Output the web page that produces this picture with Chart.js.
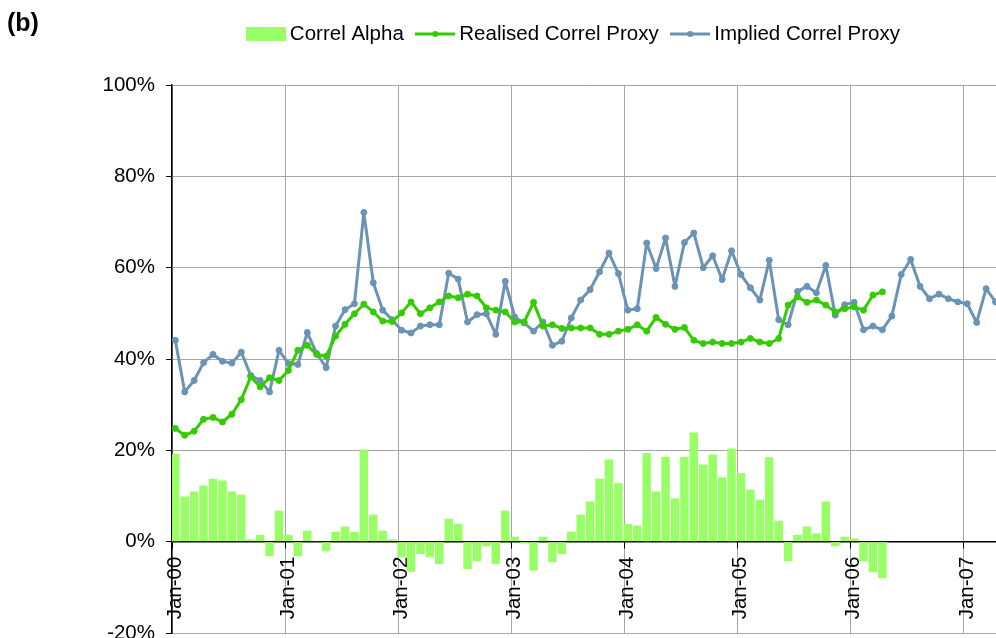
<!DOCTYPE html>
<html>
<head>
<meta charset="utf-8">
<script src="https://cdn.jsdelivr.net/npm/chart.js@4.4.1/dist/chart.umd.min.js"></script>
<style>
  html, body { margin: 0; padding: 0; background: #fff; }
  #wrap { position: relative; width: 996px; height: 638px; overflow: hidden; }
  #panel { position: absolute; left: 7px; top: 8px; font: bold 25px 'Liberation Sans', Arial, sans-serif; color: #000; }
</style>
</head>
<body>
<div id="wrap">
  <canvas id="chart" width="996" height="638"></canvas>
  <div id="panel">(b)</div>
</div>
<script>
// monthly, Jan-00 onwards (values in %)
const implied = [
  44.1, 32.8, 35.3, 39.2, 41.0, 39.5, 39.1, 41.5, 36.4, 35.3, 32.8, 41.9,
  39.0, 38.8, 45.8, 41.2, 38.1, 47.2, 50.8, 52.1, 72.1, 56.7, 50.7, 48.6,
  46.3, 45.7, 47.2, 47.5, 47.5, 58.8, 57.5, 48.1, 49.7, 49.9, 45.4, 57.0,
  49.2, 47.9, 46.1, 48.1, 43.0, 43.9, 49.0, 52.9, 55.2, 59.1, 63.2, 58.7,
  50.7, 51.0, 65.4, 59.8, 66.5, 55.9, 65.5, 67.6, 60.0, 62.6, 57.4, 63.7,
  58.5, 55.6, 52.9, 61.6, 48.6, 47.5, 54.8, 55.9, 54.5, 60.5, 49.6, 51.9,
  52.4, 46.4, 47.2, 46.4, 49.4, 58.5, 61.8, 55.9, 53.2, 54.2, 53.2, 52.5,
  52.1, 48.0, 55.4, 52.5
];
const realised = [
  24.8, 23.3, 24.2, 26.8, 27.2, 26.2, 27.9, 31.1, 36.1, 33.9, 35.9, 35.3,
  37.5, 41.9, 43.0, 41.0, 40.6, 45.0, 47.6, 49.9, 52.0, 50.3, 48.3, 48.2,
  50.1, 52.5, 49.9, 51.2, 52.5, 53.8, 53.4, 54.2, 53.8, 51.2, 50.7, 50.3,
  48.1, 48.1, 52.4, 47.2, 47.5, 46.7, 46.8, 46.8, 46.8, 45.4, 45.4, 46.1,
  46.5, 47.5, 46.1, 49.1, 47.6, 46.5, 46.9, 44.1, 43.4, 43.7, 43.4, 43.4,
  43.7, 44.5, 43.7, 43.4, 44.5, 51.8, 53.6, 52.4, 52.9, 51.8, 50.3, 51.0,
  51.4, 50.7, 54.0, 54.7
];
const alpha = [
  19.2, 9.9, 11.0, 12.3, 13.8, 13.4, 11.0, 10.3, 0.5, 1.5, -3.2, 6.8,
  1.5, -3.2, 2.4, 0.2, -2.1, 2.2, 3.3, 2.2, 20.2, 5.9, 2.4, 0.5,
  -3.4, -6.6, -2.7, -3.4, -4.9, 5.0, 3.9, -6.0, -4.3, -1.0, -4.9, 6.8,
  1.1, -0.4, -6.3, 1.1, -4.5, -2.7, 2.2, 5.9, 8.8, 13.8, 18.0, 12.8,
  3.9, 3.5, 19.4, 11.0, 18.6, 9.5, 18.6, 23.9, 16.9, 19.1, 14.1, 20.4,
  15.0, 11.4, 9.2, 18.5, 4.6, -4.3, 1.5, 3.3, 1.8, 8.8, -1.0, 1.1,
  0.7, -4.3, -6.7, -8.0
];
const yearTicks = ['Jan-00', 'Jan-01', 'Jan-02', 'Jan-03', 'Jan-04', 'Jan-05', 'Jan-06', 'Jan-07'];
const seriesNames = ['Correl Alpha', 'Realised Correl Proxy', 'Implied Correl Proxy'];

const ALPHA_COL = '#99FF66';
const REAL_COL = '#33CC00';
const IMPL_COL = '#6A93B5';
const FONT = "'Liberation Sans', Arial, sans-serif";
const LEGEND_GAP = 30.75; // empty band between legend row and plot top

// points sit a little after the month gridline, like the original
const atMonth = arr => arr.map((v, i) => ({ x: i + 0.35, y: v }));

function swatch(kind, color) {
  const c = document.createElement('canvas');
  c.width = 40;
  c.height = kind === 'box' ? 14 : 8;
  const g = c.getContext('2d');
  g.fillStyle = color;
  g.strokeStyle = color;
  if (kind === 'box') {
    g.fillRect(0, 0, 40, 14);
  } else {
    g.lineWidth = 3;
    g.beginPath(); g.moveTo(0, 4); g.lineTo(40, 4); g.stroke();
    g.beginPath(); g.arc(20, 4, 3, 0, Math.PI * 2); g.fill();
  }
  return c;
}
const swatches = [swatch('box', ALPHA_COL), swatch('line', REAL_COL), swatch('line', IMPL_COL)];

// make the legend box taller (gap below it) and nudge it left a bit
const legendSpacer = {
  id: 'legendSpacer',
  beforeLayout(chart) {
    const lg = chart.legend;
    if (lg && !lg.spacerPatched) {
      const fit = lg.fit;
      lg.fit = function () {
        fit.call(this);
        this.height += LEGEND_GAP;
      };
      lg.spacerPatched = true;
    }
  },
  afterLayout(chart) {
    chart.legend.left -= 8;
    chart.legend.right -= 8;
  }
};

Chart.defaults.font.family = FONT;
Chart.defaults.color = '#000';

new Chart(document.getElementById('chart'), {
  type: 'line',
  plugins: [legendSpacer],
  data: {
    datasets: [
      {
        type: 'bar',
        label: seriesNames[0],
        data: atMonth(alpha),
        backgroundColor: ALPHA_COL,
        borderWidth: 0,
        barPercentage: 0.9,
        categoryPercentage: 1,
        order: 3
      },
      {
        label: seriesNames[1],
        data: atMonth(realised),
        borderColor: REAL_COL,
        backgroundColor: REAL_COL,
        borderWidth: 3,
        borderJoinStyle: 'round',
        pointRadius: 3,
        pointBorderWidth: 1,
        tension: 0,
        order: 1
      },
      {
        label: seriesNames[2],
        data: atMonth(implied),
        borderColor: IMPL_COL,
        backgroundColor: IMPL_COL,
        borderWidth: 3,
        borderJoinStyle: 'round',
        pointRadius: 3,
        pointBorderWidth: 1,
        tension: 0,
        order: 2
      }
    ]
  },
  options: {
    responsive: false,
    animation: false,
    layout: { autoPadding: false, padding: { top: 6, left: 0, right: 0, bottom: 0 } },
    scales: {
      x: {
        type: 'linear',
        position: { y: 0 },
        min: 0,
        max: 87.4,
        offset: false,
        afterBuildTicks: scale => {
          scale.ticks = yearTicks.map((_, i) => ({ value: i * 12 }));
        },
        afterFit: scale => {
          scale.paddingLeft = 0;
          scale.paddingRight = 0;
        },
        ticks: {
          autoSkip: false,
          minRotation: 90,
          maxRotation: 90,
          padding: 9,
          labelOffset: 3,
          font: { size: 20.5 },
          callback: (v, i) => yearTicks[i]
        },
        grid: { color: '#a6a6a6', lineWidth: 1, tickColor: '#000', tickLength: 6, offset: false },
        border: { color: '#000', width: 1.5 }
      },
      y: {
        min: -20,
        max: 100,
        afterFit: scale => {
          scale.width = 172;
          scale.paddingTop = 0;
          scale.paddingBottom = 5;
        },
        ticks: {
          stepSize: 20,
          padding: 11,
          font: { size: 20.5 },
          callback: v => v + '%'
        },
        grid: {
          color: ctx => (ctx.tick && ctx.tick.value === 0 ? '#000' : '#a6a6a6'),
          tickColor: '#000',
          tickLength: 6
        },
        border: { color: '#000', width: 1.5 }
      }
    },
    plugins: {
      tooltip: { enabled: false },
      legend: {
        position: 'top',
        fullSize: false,
        labels: {
          usePointStyle: true,
          pointStyleWidth: 27.5,
          padding: 17.75,
          font: { size: 20.5 },
          color: '#000',
          generateLabels: chart => chart.data.datasets.map((ds, i) => ({
            text: ds.label,
            pointStyle: swatches[i],
            fillStyle: 'transparent',
            strokeStyle: 'transparent',
            lineWidth: 0,
            fontColor: '#000',
            hidden: false,
            datasetIndex: i
          }))
        }
      }
    }
  }
});
</script>
</body>
</html>
